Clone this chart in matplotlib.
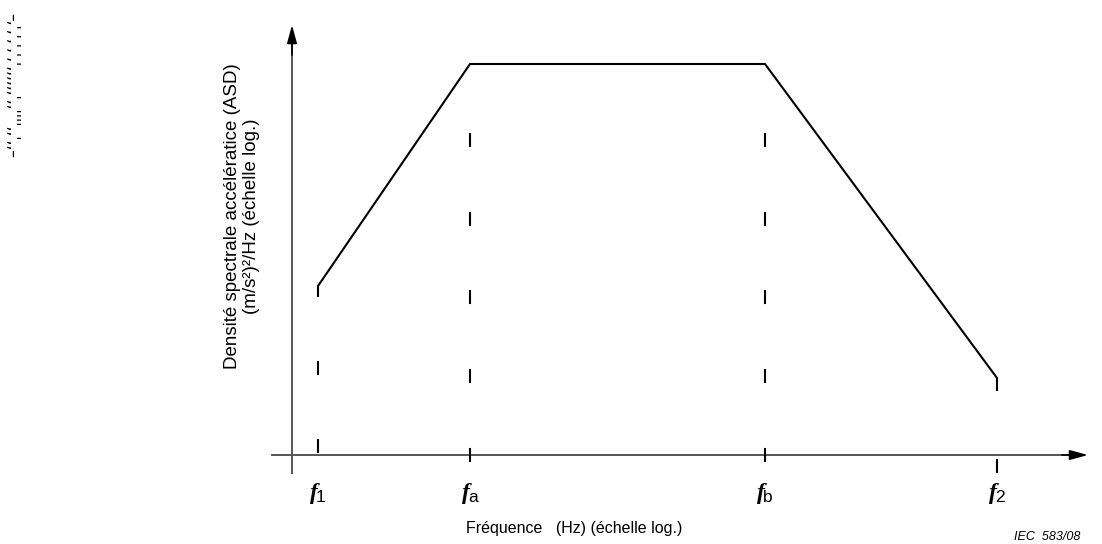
import matplotlib
matplotlib.use("Agg")
import matplotlib.pyplot as plt

# schematic values (x: log frequency units, y: log ASD units)
freq_names = ["1", "a", "b", "2"]
freq_pos = [0.26, 1.78, 4.73, 7.05]
asd_level = [1.69, 3.91, 3.91, 0.77]
start_foot = 1.59   # lower end of the small vertical step at f1
end_foot = 0.65     # lower end of the small vertical step at f2

# short dashed guides
guide_f1 = [0.87, 0.09]
guide_mid = [3.15, 2.36, 1.58, 0.79, 0.0]
tick_f2 = -0.11
dash_half = 0.06

fig = plt.figure(figsize=(11.02, 5.44), dpi=100)
ax = fig.add_axes([0, 0, 1, 1])
ax.set_xlim(-2.92, 8.10)
ax.set_ylim(-0.89, 4.55)
ax.axis("off")

axis_col = "#555555"
# axes with arrows
ax.plot([0, 0], [-0.18, 4.1], color=axis_col, lw=1.4)
ax.annotate("", xy=(0, 4.30), xytext=(0, 4.0),
            arrowprops=dict(arrowstyle="-|>,head_length=1.1,head_width=0.3",
                            color="black", lw=1.2, shrinkA=0, shrinkB=0))
ax.plot([-0.20, 7.8], [0, 0], color=axis_col, lw=1.4)
ax.annotate("", xy=(7.96, 0), xytext=(7.7, 0),
            arrowprops=dict(arrowstyle="-|>,head_length=1.1,head_width=0.3",
                            color="black", lw=1.2, shrinkA=0, shrinkB=0))

# ASD profile
xs = [freq_pos[0]] + freq_pos + [freq_pos[-1]]
ys = [start_foot] + asd_level + [end_foot]
ax.plot(xs, ys, color="black", lw=1.5, solid_joinstyle="miter")

# dashed guides
for y in guide_f1:
    ax.plot([freq_pos[0]] * 2, [y - dash_half, y + dash_half], color="black", lw=1.5)
for x in freq_pos[1:3]:
    for y in guide_mid:
        ax.plot([x, x], [y - dash_half, y + dash_half], color="black", lw=1.5)
ax.plot([freq_pos[3]] * 2, [tick_f2 - dash_half, tick_f2 + dash_half], color="black", lw=1.5)

# frequency labels
for name, x in zip(freq_names, freq_pos):
    ax.text(x - 0.005, -0.385, "f", family=["Liberation Serif", "DejaVu Serif"],
            style="italic", weight="bold", fontsize=17, ha="right", va="center")
    ax.text(x - 0.02, -0.42, name, family="Liberation Sans", fontsize=12.5,
            ha="left", va="center")

ax.text(2.82, -0.73, "Fréquence   (Hz) (échelle log.)", family="Liberation Sans",
        fontsize=11.5, ha="center", va="center")
ax.text(-0.50, 2.39, "Densité spectrale accélératice (ASD)\n(m/s²)²/Hz (échelle log.)",
        family="Liberation Sans", fontsize=13.5, rotation=90, ha="center",
        va="center", linespacing=1.15)
ax.text(7.55, -0.82, "IEC  583/08", family="Liberation Sans", style="italic",
        fontsize=9, ha="center", va="center")

# scanning artefact at the left margin
ax.text(-2.80, 3.70, "–‚'‚'‚'‚'‚'‚‚‚‚‚‚'‚‚''''‚‚'‚‚–", family="DejaVu Sans",
        fontsize=11, rotation=270, ha="center", va="center")

fig.savefig("out.png", dpi=100)
